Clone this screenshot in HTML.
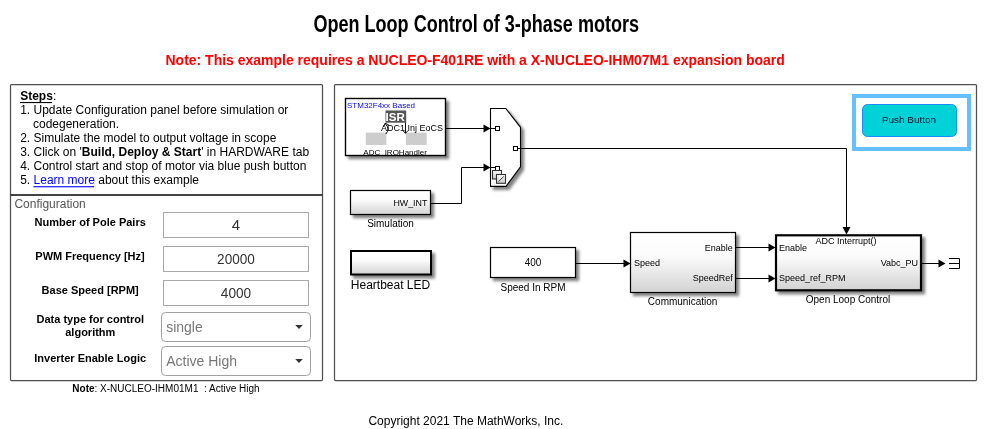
<!DOCTYPE html>
<html><head><meta charset="utf-8">
<style>
html,body{margin:0;padding:0;background:#fff;width:991px;height:429px;overflow:hidden}
svg{display:block;will-change:transform}
text{font-family:"Liberation Sans",sans-serif}
</style></head>
<body>
<svg width="991" height="429" viewBox="0 0 991 429">
<defs>
<linearGradient id="g1" x1="0" y1="0" x2="0" y2="1">
<stop offset="0" stop-color="#ffffff"/><stop offset="0.4" stop-color="#fbfbfb"/><stop offset="1" stop-color="#d2d2d2"/>
</linearGradient>
<linearGradient id="g2" x1="0" y1="0" x2="0" y2="1">
<stop offset="0" stop-color="#ffffff"/><stop offset="1" stop-color="#c8c8c8"/>
</linearGradient>
<filter id="sh" x="-20%" y="-20%" width="150%" height="160%">
<feGaussianBlur in="SourceAlpha" stdDeviation="1.6"/>
<feOffset dx="2.5" dy="2.5" result="o"/>
<feComponentTransfer><feFuncA type="linear" slope="0.5"/></feComponentTransfer>
<feMerge><feMergeNode/><feMergeNode in="SourceGraphic"/></feMerge>
</filter>
<clipPath id="stmclip"><rect x="345" y="98" width="101" height="58"/></clipPath>
</defs>

<!-- Title -->
<text x="313.5" y="31.8" font-size="23.5" font-weight="bold" textLength="325.5" lengthAdjust="spacingAndGlyphs" fill="#000">Open Loop Control of 3-phase motors</text>
<text x="165.5" y="65.2" font-size="14.5" font-weight="bold" fill="#ff0000" textLength="619.3" lengthAdjust="spacingAndGlyphs">Note: This example requires a NUCLEO-F401RE with a X-NUCLEO-IHM07M1 expansion board</text>

<!-- Left panel -->
<rect x="10.5" y="84.5" width="312" height="296" rx="1" fill="none" stroke="#505050" stroke-width="1.25"/>
<rect x="10" y="194" width="313" height="2" fill="#444"/>
<g font-size="12" fill="#000">
<text x="20.2" y="99.9"><tspan font-weight="bold">Steps</tspan>:</text>
<text x="20.2" y="113.9">1. Update Configuration panel before simulation or</text>
<text x="33" y="127.9">codegeneration.</text>
<text x="20.2" y="141.9">2. Simulate the model to output voltage in scope</text>
<text x="20.2" y="156">3. Click on '<tspan font-weight="bold">Build, Deploy &amp; Start</tspan>' in HARDWARE tab</text>
<text x="20.2" y="170">4. Control start and stop of motor via blue push button</text>
<text x="20.2" y="184">5. <tspan fill="#0000ff">Learn more</tspan> about this example</text>
</g>
<rect x="20" y="102" width="32" height="1.1" fill="#000"/>
<rect x="33.3" y="186.2" width="60.8" height="1.1" fill="#0000ff"/>
<text x="14.4" y="208" font-size="12" fill="#555">Configuration</text>
<g font-size="11" font-weight="bold" fill="#000" text-anchor="middle">
<text x="90.2" y="225.8">Number of Pole Pairs</text>
<text x="90" y="260">PWM Frequency [Hz]</text>
<text x="90.2" y="293.9">Base Speed [RPM]</text>
<text x="90.3" y="323">Data type for control</text>
<text x="90.3" y="335.7">algorithm</text>
<text x="90.2" y="361.8">Inverter Enable Logic</text>
</g>
<g fill="#fff" stroke="#a8a8a8" stroke-width="1">
<rect x="163.5" y="212.5" width="145" height="25"/>
<rect x="163.5" y="246.5" width="145" height="25"/>
<rect x="163.5" y="280.5" width="145" height="25"/>
</g>
<g font-size="15" fill="#333" text-anchor="middle">
<text x="236" y="230.3">4</text>
<text x="236" y="264.2" textLength="37.8" lengthAdjust="spacingAndGlyphs">20000</text>
<text x="236" y="298" textLength="30.4" lengthAdjust="spacingAndGlyphs">4000</text>
</g>
<g fill="#fff" stroke="#a0a0a0" stroke-width="1">
<rect x="161.5" y="312.5" width="149" height="29" rx="4"/>
<rect x="161.5" y="346.5" width="149" height="29" rx="4"/>
</g>
<g font-size="14" fill="#777">
<text x="166.2" y="332">single</text>
<text x="166.2" y="365.8">Active High</text>
</g>
<path d="M295.2 325h7.6l-3.8 4z M295.2 359h7.6l-3.8 4z" fill="#333"/>
<text x="72.3" y="391.8" font-size="10" fill="#000" xml:space="preserve"><tspan font-weight="bold">Note</tspan>: X-NUCLEO-IHM01M1  : Active High</text>

<!-- Copyright -->
<text x="368.4" y="425" font-size="12" fill="#000">Copyright 2021 The MathWorks, Inc.</text>

<!-- Diagram panel -->
<rect x="334.5" y="84.5" width="642" height="296" rx="1" fill="none" stroke="#505050" stroke-width="1.25"/>

<!-- STM32 block -->
<rect x="345.5" y="98.5" width="100" height="57" fill="#fff" stroke="#000" stroke-width="1.2" filter="url(#sh)"/>
<text x="347" y="107.7" font-size="8" fill="#0808e0">STM32F4xx Based</text>
<rect x="385.5" y="110.5" width="20.7" height="12.2" fill="#555"/>
<text x="385.6" y="120.5" font-size="11" font-weight="bold" fill="#fff" textLength="19.3" lengthAdjust="spacingAndGlyphs">ISR</text>
<rect x="365.8" y="132.6" width="20.5" height="12.4" fill="#cdcdcd"/>
<rect x="405.9" y="132.6" width="20.8" height="12.4" fill="#cdcdcd"/>
<text x="381" y="131" font-size="9" fill="#000">ADC1 Inj EoCS</text>
<g clip-path="url(#stmclip)"><text x="363.3" y="155.3" font-size="8" fill="#000">ADC_IRQHandler</text></g>
<rect x="345.5" y="98.5" width="100" height="57" fill="none" stroke="#000" stroke-width="1.2"/>
<g stroke="#000" stroke-width="0.95" fill="none">
<path d="M385.8 134Q390.5 129 385.2 123.6"/>
<path d="M383.3 127L385 123.4L388.6 124.6"/>
<path d="M405.5 122.5V133.3M403.1 130.7L405.5 133.3L407.9 130.7"/>
</g>

<!-- Push button -->
<rect x="854" y="96" width="115" height="53" fill="#fff" stroke="#66bfff" stroke-width="4"/>
<rect x="862.5" y="104.5" width="94" height="32" rx="5" fill="#00d2d8" stroke="#1a8cff" stroke-width="1"/>
<text x="882" y="123.2" font-size="9.6" fill="#00102a" textLength="54" lengthAdjust="spacingAndGlyphs">Push Button</text>

<!-- Merge block -->
<path d="M490.5 108.5H505.8L520.5 127.3V166.8L506 186.4H490.5Z" fill="#fff" stroke="#000" stroke-width="1.1" filter="url(#sh)"/>
<g stroke="#000" stroke-width="1" fill="none">
<path d="M490.5 128.5H495.5"/>
<path d="M518 148.5H520.5"/>
<path d="M490.5 167.5H495.5"/>
</g>
<rect x="495.5" y="126.5" width="4" height="4" fill="#fff" stroke="#000" stroke-width="1"/>
<rect x="513.5" y="146.5" width="4" height="4" fill="#fff" stroke="#000" stroke-width="1"/>
<rect x="495.5" y="166.5" width="4" height="4" fill="#fff" stroke="#000" stroke-width="1"/>
<rect x="492.5" y="170.5" width="9" height="8.5" fill="url(#g2)" stroke="#333" stroke-width="1.1"/>
<rect x="496.5" y="174.5" width="9" height="8.8" fill="url(#g2)" stroke="#333" stroke-width="1.1"/>
<path d="M498.6 181.6L503.8 176.3" stroke="#444" stroke-width="1"/>

<!-- HW_INT -->
<rect x="350.5" y="190.5" width="80" height="24" fill="url(#g1)" stroke="#000" stroke-width="1.2" filter="url(#sh)"/>
<text x="393.4" y="206" font-size="9.6" fill="#000" textLength="34" lengthAdjust="spacingAndGlyphs">HW_INT</text>
<text x="390.5" y="227" font-size="10" fill="#000" text-anchor="middle">Simulation</text>

<!-- Heartbeat LED -->
<rect x="351" y="251" width="80" height="23.5" fill="url(#g1)" stroke="#000" stroke-width="2" filter="url(#sh)"/>
<text x="390.5" y="288.7" font-size="12" fill="#000" text-anchor="middle">Heartbeat LED</text>

<!-- 400 -->
<rect x="490.5" y="247.5" width="85" height="30" fill="#fff" stroke="#000" stroke-width="1.2" filter="url(#sh)"/>
<text x="524.8" y="266" font-size="10" fill="#000" textLength="16.6" lengthAdjust="spacingAndGlyphs">400</text>
<text x="533" y="290.5" font-size="10" fill="#000" text-anchor="middle">Speed In RPM</text>

<!-- Communication -->
<rect x="630.5" y="232.5" width="105" height="60" fill="url(#g1)" stroke="#000" stroke-width="1.2" filter="url(#sh)"/>
<text x="634" y="266.1" font-size="9" fill="#000">Speed</text>
<text x="732.7" y="251" font-size="9" fill="#000" text-anchor="end">Enable</text>
<text x="732.7" y="281" font-size="9" fill="#000" text-anchor="end">SpeedRef</text>
<text x="682.6" y="305" font-size="10" fill="#000" text-anchor="middle">Communication</text>

<!-- Open loop control -->
<rect x="776" y="235.3" width="145" height="55" fill="url(#g1)" stroke="#000" stroke-width="2.2" filter="url(#sh)"/>
<text x="846" y="243.6" font-size="9" fill="#000" text-anchor="middle">ADC Interrupt()</text>
<text x="779" y="251" font-size="9" fill="#000">Enable</text>
<text x="779" y="281" font-size="9" fill="#000">Speed_ref_RPM</text>
<text x="918" y="266.2" font-size="9" fill="#000" text-anchor="end">Vabc_PU</text>
<text x="848" y="303.3" font-size="10" fill="#000" text-anchor="middle">Open Loop Control</text>

<!-- Lines -->
<g stroke="#000" stroke-width="1" fill="none">
<path d="M446 128.5H484"/>
<path d="M431 203.5H461.5V167.5H484"/>
<path d="M520.5 148.5H846.5V228"/>
<path d="M576 263.5H624"/>
<path d="M736 247.5H769"/>
<path d="M736 278.5H769"/>
<path d="M922 263.5H939"/>
<path d="M949 258.5H959.5V268.5H949 M949 263.5H959.5"/>
</g>
<g fill="#000">
<path d="M483.5 124.5L490.5 128.5L483.5 132.5Z"/>
<path d="M483.5 163.5L490.5 167.5L483.5 171.5Z"/>
<path d="M623.5 259.5L630.5 263.5L623.5 267.5Z"/>
<path d="M768.5 243.5L775.5 247.5L768.5 251.5Z"/>
<path d="M768.5 274.5L775.5 278.5L768.5 282.5Z"/>
<path d="M938.5 259.5L945.5 263.5L938.5 267.5Z"/>
<path d="M842.5 227L846.5 234.5L850.5 227Z"/>
</g>
</svg>
</body></html>
